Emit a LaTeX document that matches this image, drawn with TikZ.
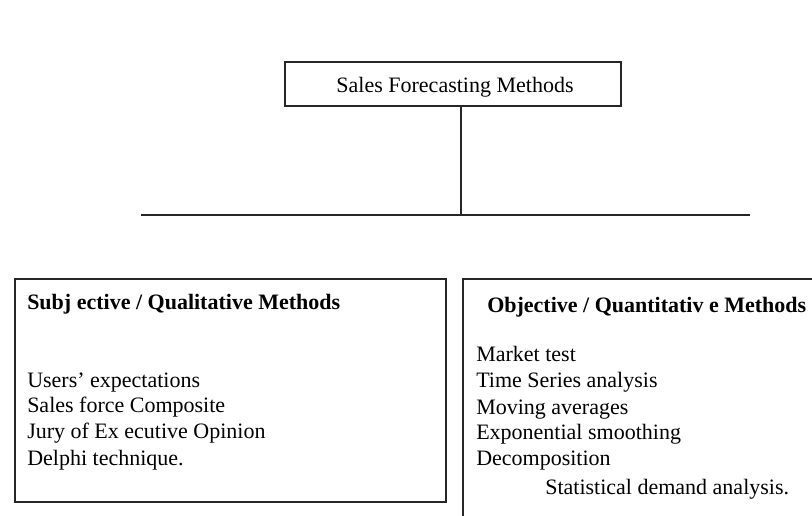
\documentclass[tikz,border=0pt]{standalone}
\usepackage{fontspec}
\setmainfont{Liberation Serif}
\begin{document}
\begin{tikzpicture}[x=0.75pt,y=-0.75pt,
  frame/.style={draw=black!85, line width=1.3pt, rectangle, inner sep=0pt},
  wire/.style={draw=black!85, line width=1.3pt},
  txt/.style={anchor=base west, inner sep=0pt, font=\fontsize{16.5}{19.5}\selectfont},
  head/.style={txt, font=\fontsize{16.5}{19.5}\selectfont\bfseries}]
\useasboundingbox (0,0) rectangle (812,516);
\clip (0,0) rectangle (812,516);
% top box
\node[frame, minimum width=252pt, minimum height=33pt] (title) at (453,84) {};
\node[anchor=base, inner sep=0pt, font=\fontsize{16.5}{19.5}\selectfont] (titletext) at (455,93) {Sales Forecasting Methods};
% connectors
\coordinate (junction) at (461,215);
\coordinate (busL) at (141,215);
\coordinate (busR) at (750,215);
\draw[wire] (title.south -| junction) -- (junction);
\draw[wire] (busL) -- (busR);
% left box
\node[frame, minimum width=323.25pt, minimum height=167.25pt] (leftbox) at (230.5,390.5) {};
\node[head] (lhead) at (27,309) {Subj ective / Qualitative Methods};
\node[txt] (l1) at (27,387) {Users’ expectations};
\node[txt] (l2) at (27,412) {Sales force Composite};
\node[txt] (l3) at (27,438) {Jury of Ex ecutive Opinion};
\node[txt] (l4) at (27,465) {Delphi technique.};
% right box
\node[frame, minimum width=275.25pt, minimum height=195.75pt] (rightbox) at (646.5,409.5) {};
\node[head] (rhead) at (487,312) {Objective / Quantitativ e Methods};
\node[txt] (r1) at (476,361) {Market test};
\node[txt] (r2) at (476,387) {Time Series analysis};
\node[txt] (r3) at (476,414) {Moving averages};
\node[txt] (r4) at (476,439) {Exponential smoothing};
\node[txt] (r5) at (476,465) {Decomposition};
\node[txt] (r6) at (545,494) {Statistical demand analysis.};
\end{tikzpicture}
\end{document}
